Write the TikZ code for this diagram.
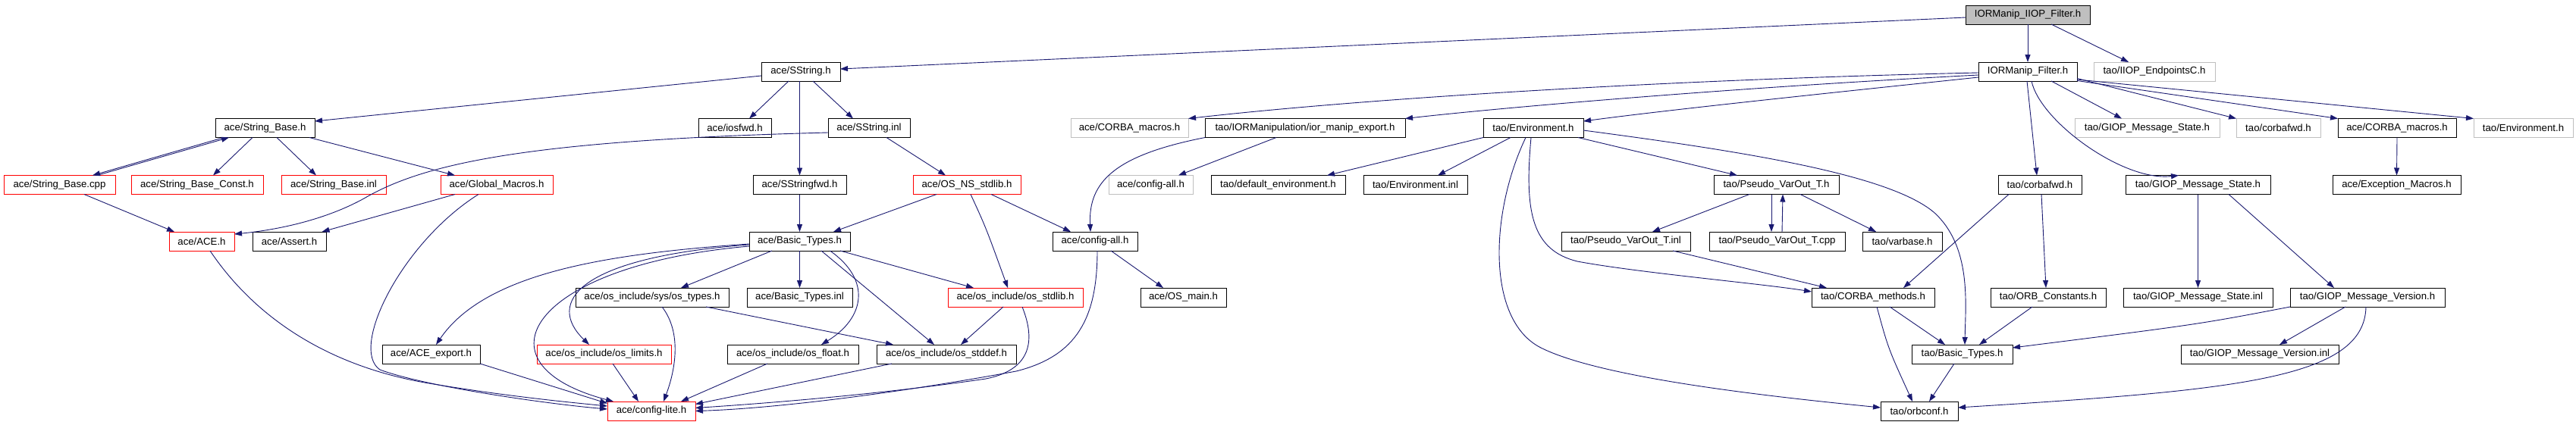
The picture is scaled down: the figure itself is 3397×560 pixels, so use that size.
\documentclass[tikz,border=0pt]{standalone}
\usepackage{fontspec}
\setmainfont{Liberation Sans}
\usetikzlibrary{arrows.meta,calc}
\definecolor{edgeblue}{RGB}{25,25,112}
\definecolor{boxgray}{RGB}{191,191,191}
\newcommand{\dgfont}{\fontsize{13.2pt}{15pt}\selectfont}
\tikzset{
  filebox/.style={draw=black, line width=1pt, minimum height=25pt, inner sep=0pt, outer sep=0pt, font=\dgfont, text=black, fill=white},
  redbox/.style={filebox, draw=red},
  graybox/.style={filebox, draw=boxgray},
  topbox/.style={filebox, fill=boxgray},
  dep/.style={draw=edgeblue, line width=0.9pt, -{Triangle[length=10pt,width=7pt]}},
}
\begin{document}
\begin{tikzpicture}[x=1pt,y=-1pt]
\fill[white] (0,0) rectangle (3397,560);
\useasboundingbox (0,0) rectangle (3397,560);
% row 0
\node[topbox, minimum width=164pt] (top) at (2674,19.5) {IORManip\_IIOP\_Filter.h};
% row 1
\node[filebox, minimum width=104pt] (sstr) at (1056,94.5) {ace/SString.h};
\node[filebox, minimum width=130pt] (filt) at (2674,94.5) {IORManip\_Filter.h};
\node[graybox, minimum width=160pt] (iiop) at (2841,94.5) {tao/IIOP\_EndpointsC.h};
% row 2
\node[filebox, minimum width=131pt] (sbase) at (349.5,169) {ace/String\_Base.h};
\node[filebox, minimum width=96pt] (iosfwd) at (969,169) {ace/iosfwd.h};
\node[filebox, minimum width=108pt] (sinl) at (1146,169) {ace/SString.inl};
\node[graybox, minimum width=155pt] (corbamacg) at (1489.5,169) {ace/CORBA\_macros.h};
\node[filebox, minimum width=264pt] (iorexp) at (1721,169) {tao/IORManipulation/ior\_manip\_export.h};
\node[filebox, minimum width=132pt] (env) at (2022,169) {tao/Environment.h};
\node[graybox, minimum width=191pt] (gmsg) at (2831.5,169) {tao/GIOP\_Message\_State.h};
\node[graybox, minimum width=111pt] (cfwdg) at (3004.5,169) {tao/corbafwd.h};
\node[filebox, minimum width=156pt] (corbamac) at (3161,169) {ace/CORBA\_macros.h};
\node[graybox, minimum width=131pt] (envg) at (3327.5,169) {tao/Environment.h};
% row 3
\node[redbox, minimum width=147pt] (sbcpp) at (78.5,244) {ace/String\_Base.cpp};
\node[redbox, minimum width=174pt] (sbconst) at (260,244) {ace/String\_Base\_Const.h};
\node[redbox, minimum width=138pt] (sbinl) at (440,244) {ace/String\_Base.inl};
\node[redbox, minimum width=148pt] (gmac) at (655,244) {ace/Global\_Macros.h};
\node[filebox, minimum width=123pt] (sfwd) at (1054.5,244) {ace/SStringfwd.h};
\node[redbox, minimum width=142pt] (osns) at (1275,244) {ace/OS\_NS\_stdlib.h};
\node[graybox, minimum width=111pt] (cfgallg) at (1517.5,244) {ace/config-all.h};
\node[filebox, minimum width=177pt] (defenv) at (1685.5,244) {tao/default\_environment.h};
\node[filebox, minimum width=137pt] (envinl) at (1866.5,244) {tao/Environment.inl};
\node[filebox, minimum width=165pt] (pvo) at (2342.5,244) {tao/Pseudo\_VarOut\_T.h};
\node[filebox, minimum width=110pt] (cfwd) at (2690,244) {tao/corbafwd.h};
\node[filebox, minimum width=191pt] (gms) at (2898.5,244) {tao/GIOP\_Message\_State.h};
\node[filebox, minimum width=169pt] (exc) at (3160.5,244) {ace/Exception\_Macros.h};
% row 4
\node[redbox, minimum width=86pt] (ace) at (266,318.5) {ace/ACE.h};
\node[filebox, minimum width=97pt] (assert) at (381.5,318.5) {ace/Assert.h};
\node[filebox, minimum width=133pt] (bt) at (1054.5,318.5) {ace/Basic\_Types.h};
\node[filebox, minimum width=112pt] (cfgall) at (1444,318.5) {ace/config-all.h};
\node[filebox, minimum width=170pt] (pvoinl) at (2144,318.5) {tao/Pseudo\_VarOut\_T.inl};
\node[filebox, minimum width=179pt] (pvocpp) at (2343.5,318.5) {tao/Pseudo\_VarOut\_T.cpp};
\node[filebox, minimum width=105pt] (varbase) at (2508.5,318.5) {tao/varbase.h};
% row 5
\node[filebox, minimum width=202pt] (ostypes) at (860,392.5) {ace/os\_include/sys/os\_types.h};
\node[filebox, minimum width=139pt] (btinl) at (1054.5,392.5) {ace/Basic\_Types.inl};
\node[redbox, minimum width=178pt] (osstdlib) at (1339,392.5) {ace/os\_include/os\_stdlib.h};
\node[filebox, minimum width=113pt] (osmain) at (1560.5,392.5) {ace/OS\_main.h};
\node[filebox, minimum width=162pt] (cmeth) at (2470,392.5) {tao/CORBA\_methods.h};
\node[filebox, minimum width=152pt] (orbc) at (2701,392.5) {tao/ORB\_Constants.h};
\node[filebox, minimum width=197pt] (gmsinl) at (2898.5,392.5) {tao/GIOP\_Message\_State.inl};
\node[filebox, minimum width=204pt] (gmv) at (3122,392.5) {tao/GIOP\_Message\_Version.h};
% row 6
\node[filebox, minimum width=129pt] (aceexp) at (568.5,467.5) {ace/ACE\_export.h};
\node[redbox, minimum width=177pt] (oslim) at (796.5,467.5) {ace/os\_include/os\_limits.h};
\node[filebox, minimum width=173pt] (osfloat) at (1045.5,467.5) {ace/os\_include/os\_float.h};
\node[filebox, minimum width=184pt] (osstddef) at (1248,467.5) {ace/os\_include/os\_stddef.h};
\node[filebox, minimum width=133pt] (tbt) at (2587.5,467.5) {tao/Basic\_Types.h};
\node[filebox, minimum width=208pt] (gmvinl) at (2980,467.5) {tao/GIOP\_Message\_Version.inl};
% row 7
\node[redbox, minimum width=116pt] (cfglite) at (859,542.5) {ace/config-lite.h};
\node[filebox, minimum width=102pt] (orbconf) at (2531,542.5) {tao/orbconf.h};

% ---- edges ----
% top
\draw[dep] ([yshift=-3.5pt]top.west) -- ([yshift=3.5pt]sstr.east);
\draw[dep] (top.south) -- (filt.north);
\draw[dep] ([xshift=31pt]top.south) -- ([xshift=-34pt]iiop.north);
% SString.h
\draw[dep] ([yshift=-5.5pt]sstr.west) -- ([yshift=9pt]sbase.east);
\draw[dep] ([xshift=-16pt]sstr.south) -- ([xshift=19pt]iosfwd.north);
\draw[dep] (sstr.south -| sfwd.north) -- (sfwd.north);
\draw[dep] ([xshift=16pt]sstr.south) -- ([xshift=-21pt]sinl.north);
% IORManip_Filter.h
\draw[dep] ([yshift=-1.5pt]filt.west) .. controls (2200,105) and (1800,130) .. (corbamacg.north east);
\draw[dep] ([yshift=-4.5pt]filt.west) .. controls (2300,115) and (2000,140) .. (iorexp.north east);
\draw[dep] ([yshift=-7.5pt]filt.west) .. controls (2400,124) and (2200,145) .. ([yshift=9pt]env.east);
\draw[dep] ([xshift=31pt]filt.south) -- ([xshift=-33.5pt]gmsg.north);
\draw[dep] ([yshift=-9pt]filt.east) -- (cfwdg.north west);
\draw[dep] ([yshift=-12pt]filt.east) -- (corbamac.north west);
\draw[dep] ([yshift=-10.5pt]filt.east) -- (envg.north west);
\draw[dep] ([xshift=-1pt]filt.south) -- ([xshift=-4pt]cfwd.north);
\draw[dep] ([xshift=5pt]filt.south) .. controls (2690,160) and (2800,240) .. ([xshift=-25.5pt]gms.north);
% Environment.h
\draw[dep] (env.south west) -- ([xshift=64.5pt]defenv.north);
\draw[dep] ([xshift=-30pt]env.south) -- ([xshift=29.5pt]envinl.north);
\draw[dep] ([xshift=-10pt]env.south) .. controls (1965,280) and (1960,420) .. (2030,458) .. controls (2110,500) and (2350,525) .. ([yshift=4.5pt]orbconf.west);
\draw[dep] ([xshift=-3pt]env.south) .. controls (2010,280) and (2020,330) .. (2080,345) .. controls (2160,360) and (2320,374) .. ([yshift=7.5pt]cmeth.west);
\draw[dep] ([xshift=59pt]env.south) -- ([xshift=-51.5pt]pvo.north);
\draw[dep] ([yshift=-3pt]env.east) .. controls (2300,200) and (2490,230) .. (2550,280) .. controls (2600,325) and (2592,400) .. ([xshift=3.5pt]tbt.north);
% Pseudo_VarOut
\draw[dep] ([xshift=-35.5pt]pvo.south) -- ([xshift=35pt]pvoinl.north);
\draw[dep] ([xshift=-6.5pt]pvo.south) -- ([xshift=-7.5pt]pvocpp.north);
\draw[dep] ([xshift=6.5pt]pvocpp.north) -- ([xshift=8.5pt]pvo.south);
\draw[dep] ([xshift=31.5pt]pvo.south) -- ([xshift=-34.5pt]varbase.north);
\draw[dep] ([xshift=62pt]pvoinl.south) -- ([xshift=-61pt]cmeth.north);
% corbafwd, CORBA_methods, ORB_Constants
\draw[dep] ([xshift=-41pt]cfwd.south) -- ([xshift=40pt]cmeth.north);
\draw[dep] ([xshift=2pt]cfwd.south) -- ([xshift=-3pt]orbc.north);
\draw[dep] ([xshift=22pt]cmeth.south) -- ([xshift=-22.5pt]tbt.north);
\draw[dep] ([xshift=5pt]cmeth.south) .. controls (2490,460) .. ([xshift=-9pt]orbconf.north);
\draw[dep] ([xshift=-21pt]orbc.south) -- ([xshift=22.5pt]tbt.north);
\draw[dep] ([xshift=-10.5pt]tbt.south) -- ([xshift=13pt]orbconf.north);
% GIOP
\draw[dep] (gms.south) -- (gmsinl.north);
\draw[dep] ([xshift=40.5pt]gms.south) -- ([xshift=-44pt]gmv.north);
\draw[dep] (gmv.south west) .. controls (2900,428) .. ([yshift=8.5pt]tbt.east);
\draw[dep] ([xshift=-29pt]gmv.south) -- ([xshift=26pt]gmvinl.north);
\draw[dep] ([xshift=-2pt]gmv.south) .. controls (3118,500) and (2950,515) .. ([yshift=4.5pt]orbconf.east);
\draw[dep] (corbamac.south) -- (exc.north);
% ior_manip_export
\draw[dep] (iorexp.south west) .. controls (1470,205) and (1435,240) .. ([xshift=-6pt]cfgall.north);
\draw[dep] ([xshift=-38pt]iorexp.south) -- ([xshift=36.5pt]cfgallg.north);
% SString.inl
\draw[dep] ([yshift=-6pt]sinl.west) .. controls (700,185) and (560,215) .. (480,262) .. controls (420,295) and (350,305) .. ([yshift=9.5pt]ace.east);
\draw[dep] ([xshift=23pt]sinl.south) -- ([xshift=-28pt]osns.north);
% String_Base
\draw[dep] ([xshift=-54.5pt]sbase.south) -- ([xshift=43.5pt]sbcpp.north);
\draw[dep] ([xshift=49.5pt]sbcpp.north) -- ([xshift=-47.5pt]sbase.south);
\draw[dep] ([xshift=-16.5pt]sbase.south) -- ([xshift=21pt]sbconst.north);
\draw[dep] ([xshift=15.5pt]sbase.south) -- ([xshift=-23pt]sbinl.north);
\draw[dep] ([xshift=58.5pt]sbase.south) -- ([xshift=-55pt]gmac.north);
\draw[dep] ([xshift=32.5pt]sbcpp.south) -- ([xshift=-36pt]ace.north);
% Global_Macros, ACE
\draw[dep] ([xshift=-55pt]gmac.south) -- ([xshift=43pt]assert.north);
\draw[dep] ([xshift=-24pt]gmac.south) .. controls (530,320) and (460,460) .. (501,488) .. controls (560,510) and (720,533) .. ([yshift=2.5pt]cfglite.west);
\draw[dep] ([xshift=11pt]ace.south) .. controls (330,410) and (420,480) .. (560,505) .. controls (660,522) and (740,530) .. ([yshift=6.5pt]cfglite.west);
% OS_NS_stdlib
\draw[dep] ([xshift=-40pt]osns.south) -- ([xshift=44.5pt]bt.north);
\draw[dep] ([xshift=5pt]osns.south) .. controls (1300,300) .. ([xshift=-10pt]osstdlib.north);
\draw[dep] ([xshift=32pt]osns.south) -- ([xshift=-32pt]cfgall.north);
\draw[dep] (sfwd.south) -- (bt.north);
% Basic_Types.h
\draw[dep] (bt.south) -- (btinl.north);
\draw[dep] ([xshift=-36.5pt]bt.south) -- ([xshift=38pt]ostypes.north);
\draw[dep] ([xshift=53.5pt]bt.south) -- ([xshift=-55pt]osstdlib.north);
\draw[dep] ([xshift=28.5pt]bt.south) -- ([xshift=-16pt]osstddef.north);
\draw[dep] ([xshift=40pt]bt.south) .. controls (1150,370) and (1140,420) .. ([xshift=37.5pt]osfloat.north);
\draw[dep] ([yshift=-3.5pt]bt.west) .. controls (800,335) and (640,360) .. ([xshift=6.5pt]aceexp.north);
\draw[dep] ([yshift=-4.5pt]bt.west) .. controls (760,340) and (720,400) .. ([xshift=-19.5pt]oslim.north);
\draw[dep] ([yshift=-6.5pt]bt.west) .. controls (700,350) and (620,480) .. ([xshift=-50pt]cfglite.north);
% into config-lite
\draw[dep] (aceexp.south east) -- ([yshift=10pt]cfglite.west);
\draw[dep] ([xshift=11.5pt]oslim.south) -- ([xshift=-17pt]cfglite.north);
\draw[dep] ([xshift=13pt]ostypes.south) .. controls (900,440) and (890,490) .. ([xshift=16pt]cfglite.north);
\draw[dep] ([xshift=71pt]ostypes.south) -- ([xshift=-70pt]osstddef.north);
\draw[dep] ([xshift=-33.5pt]osfloat.south) -- ([xshift=39pt]cfglite.north);
\draw[dep] ([xshift=-72pt]osstddef.south) -- ([yshift=9pt]cfglite.east);
\draw[dep] ([xshift=-16pt]osstdlib.south) -- ([xshift=19pt]osstddef.north);
\draw[dep] ([xshift=9pt]osstdlib.south) .. controls (1370,460) and (1350,490) .. (1300,500) .. controls (1150,522) and (1000,533) .. ([yshift=4pt]cfglite.east);
\draw[dep] ([xshift=3pt]cfgall.south) .. controls (1447,420) and (1420,470) .. (1340,490) .. controls (1150,525) and (1000,540) .. (cfglite.east);
\draw[dep] ([xshift=21pt]cfgall.south) -- ([xshift=-26.5pt]osmain.north);
\end{tikzpicture}
\end{document}
